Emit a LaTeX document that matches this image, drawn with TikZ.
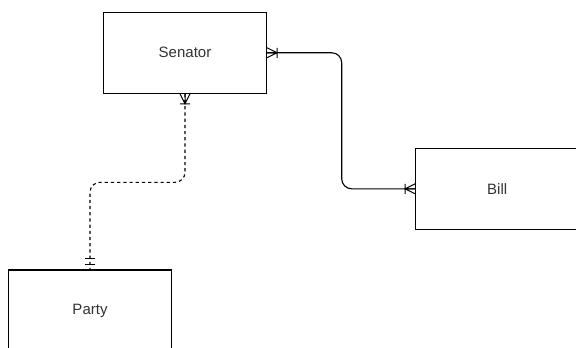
\documentclass[tikz,border=0pt]{standalone}
\usepackage{fontspec}
\setmainfont{Liberation Sans}
\definecolor{txt}{HTML}{333333}
\begin{document}
\begin{tikzpicture}[x=1pt,y=-1pt,
  entity/.style={draw=black, line width=1.1pt, fill=white, minimum width=163pt, minimum height=81pt, inner sep=0pt, text=txt, font=\fontsize{15}{18}\selectfont},
  link/.style={line width=1.1pt, rounded corners=10pt},
  dashlink/.style={link, dash pattern=on 3.2pt off 3pt},
  onemany/.pic={\draw[line width=1pt] (0,-5) -- (10,0) -- (0,5) (0,0) -- (10,0) (10,-5) -- (10,5);},
  mandone/.pic={\draw[line width=1pt] (5,-5) -- (5,5) (11,-5) -- (11,5);}
]
\useasboundingbox (0,0) rectangle (576,348);
\clip (0,0) rectangle (576,348);
\node[entity] (senator) at (185,52.75) {Senator};
\node[entity] (bill) at (497.2,188.8) {Bill};
\node[entity] (party) at (90,310.5) {Party};
\coordinate (m1) at (341.7,188.8);
\coordinate (m2) at (90,182.3);
\draw[link] (senator.east) -| (m1) -- (bill.west);
\draw[dashlink] (senator.south) |- (m2) -- (party.north);
\pic at (senator.east) {onemany};
\pic[rotate=180] at (bill.west) {onemany};
\pic[rotate=-90] at (senator.south) {onemany};
\pic[rotate=90] at (party.north) {mandone};
\end{tikzpicture}
\end{document}
